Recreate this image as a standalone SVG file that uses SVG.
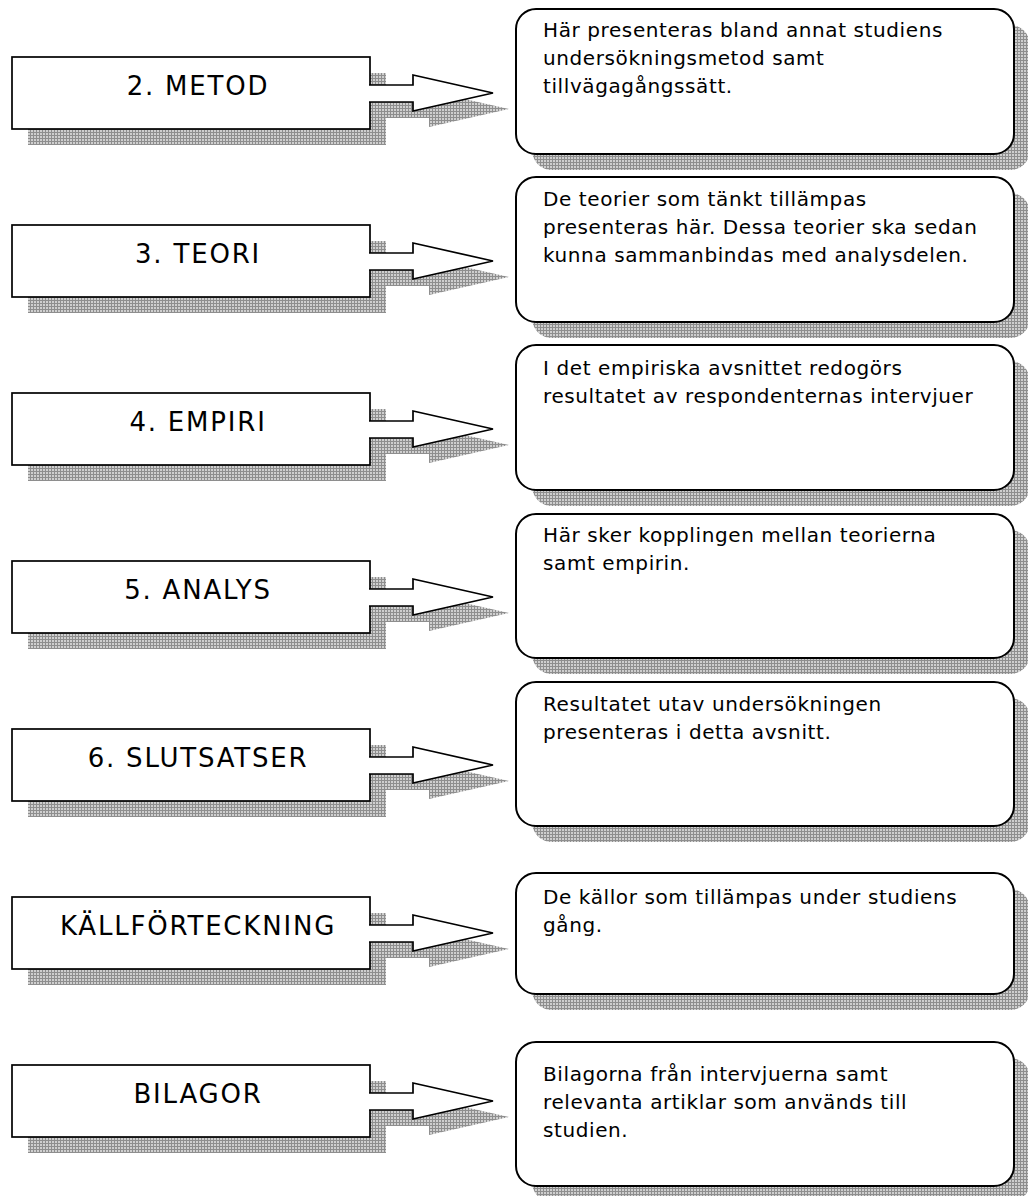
<svg xmlns="http://www.w3.org/2000/svg" width="1028" height="1196" viewBox="0 0 1028 1196">
<defs>
<pattern id="hatch" width="3" height="3" patternUnits="userSpaceOnUse">
<rect width="3" height="3" fill="#cfcfcf"/>
<path d="M0,0.5H3M0.5,0V3" stroke="#8e8e8e" stroke-width="1"/>
</pattern>
</defs>
<style>
.shadow{fill:url(#hatch);stroke:none}
.box{fill:#fff;stroke:#000;stroke-width:1.7}
.rbox{fill:#fff;stroke:#000;stroke-width:2}
.arrow{fill:#fff;stroke:#000;stroke-width:1.7;stroke-linejoin:miter}
.label{font-family:"DejaVu Sans",Verdana,sans-serif;font-size:26px;letter-spacing:1.8px;text-anchor:middle;fill:#000}
.desc{font-family:"DejaVu Sans",Verdana,sans-serif;font-size:20px;letter-spacing:0.6px;fill:#000}
</style>
<rect width="1028" height="1196" fill="#fff"/>

<!-- left nodes -->
<g id="n-metod">
<rect class="shadow" x="28" y="73" width="358" height="72"/>
<rect class="box" x="12" y="57" width="358" height="72"/>
<text class="label" x="198" y="95">2. METOD</text>
</g>
<g id="n-teori">
<rect class="shadow" x="28" y="241" width="358" height="72"/>
<rect class="box" x="12" y="225" width="358" height="72"/>
<text class="label" x="198" y="263">3. TEORI</text>
</g>
<g id="n-empiri">
<rect class="shadow" x="28" y="409" width="358" height="72"/>
<rect class="box" x="12" y="393" width="358" height="72"/>
<text class="label" x="198" y="431">4. EMPIRI</text>
</g>
<g id="n-analys">
<rect class="shadow" x="28" y="577" width="358" height="72"/>
<rect class="box" x="12" y="561" width="358" height="72"/>
<text class="label" x="198" y="599">5. ANALYS</text>
</g>
<g id="n-slutsatser">
<rect class="shadow" x="28" y="745" width="358" height="72"/>
<rect class="box" x="12" y="729" width="358" height="72"/>
<text class="label" x="198" y="767">6. SLUTSATSER</text>
</g>
<g id="n-kallor">
<rect class="shadow" x="28" y="913" width="358" height="72"/>
<rect class="box" x="12" y="897" width="358" height="72"/>
<text class="label" x="198" y="935">KÄLLFÖRTECKNING</text>
</g>
<g id="n-bilagor">
<rect class="shadow" x="28" y="1081" width="358" height="72"/>
<rect class="box" x="12" y="1065" width="358" height="72"/>
<text class="label" x="198" y="1103">BILAGOR</text>
</g>

<!-- right nodes -->
<g id="d-metod">
<rect class="shadow" x="532" y="25" width="498" height="145" rx="20"/>
<rect class="rbox" x="516" y="9" width="498" height="145" rx="20"/>
<text class="desc" x="543" y="37">Här presenteras bland annat studiens</text>
<text class="desc" x="543" y="65">undersökningsmetod samt</text>
<text class="desc" x="543" y="93">tillvägagångssätt.</text>
</g>
<g id="d-teori">
<rect class="shadow" x="532" y="193" width="498" height="145" rx="20"/>
<rect class="rbox" x="516" y="177" width="498" height="145" rx="20"/>
<text class="desc" x="543" y="206">De teorier som tänkt tillämpas</text>
<text class="desc" x="543" y="234">presenteras här. Dessa teorier ska sedan</text>
<text class="desc" x="543" y="262">kunna sammanbindas med analysdelen.</text>
</g>
<g id="d-empiri">
<rect class="shadow" x="532" y="361" width="498" height="145" rx="20"/>
<rect class="rbox" x="516" y="345" width="498" height="145" rx="20"/>
<text class="desc" x="543" y="375">I det empiriska avsnittet redogörs</text>
<text class="desc" x="543" y="403">resultatet av respondenternas intervjuer</text>
</g>
<g id="d-analys">
<rect class="shadow" x="532" y="530" width="498" height="144" rx="20"/>
<rect class="rbox" x="516" y="514" width="498" height="144" rx="20"/>
<text class="desc" x="543" y="542">Här sker kopplingen mellan teorierna</text>
<text class="desc" x="543" y="570">samt empirin.</text>
</g>
<g id="d-slutsatser">
<rect class="shadow" x="532" y="698" width="498" height="144" rx="20"/>
<rect class="rbox" x="516" y="682" width="498" height="144" rx="20"/>
<text class="desc" x="543" y="711">Resultatet utav undersökningen</text>
<text class="desc" x="543" y="739">presenteras i detta avsnitt.</text>
</g>
<g id="d-kallor">
<rect class="shadow" x="532" y="889" width="498" height="121" rx="20"/>
<rect class="rbox" x="516" y="873" width="498" height="121" rx="20"/>
<text class="desc" x="543" y="904">De källor som tillämpas under studiens</text>
<text class="desc" x="543" y="932">gång.</text>
</g>
<g id="d-bilagor">
<rect class="shadow" x="532" y="1058" width="498" height="144" rx="20"/>
<rect class="rbox" x="516" y="1042" width="498" height="144" rx="20"/>
<text class="desc" x="543" y="1081">Bilagorna från intervjuerna samt</text>
<text class="desc" x="543" y="1109">relevanta artiklar som används till</text>
<text class="desc" x="543" y="1137">studien.</text>
</g>

<!-- connectors -->
<g id="connectors">
<g id="a1" transform="translate(0,0)">
<path class="shadow" d="M385,101H429V91L509,109L429,127V118H385Z"/>
<path class="arrow" d="M369,85H413V75L493,93L413,111V102H369"/>
</g>
<g id="a2" transform="translate(0,168)">
<path class="shadow" d="M385,101H429V91L509,109L429,127V118H385Z"/>
<path class="arrow" d="M369,85H413V75L493,93L413,111V102H369"/>
</g>
<g id="a3" transform="translate(0,336)">
<path class="shadow" d="M385,101H429V91L509,109L429,127V118H385Z"/>
<path class="arrow" d="M369,85H413V75L493,93L413,111V102H369"/>
</g>
<g id="a4" transform="translate(0,504)">
<path class="shadow" d="M385,101H429V91L509,109L429,127V118H385Z"/>
<path class="arrow" d="M369,85H413V75L493,93L413,111V102H369"/>
</g>
<g id="a5" transform="translate(0,672)">
<path class="shadow" d="M385,101H429V91L509,109L429,127V118H385Z"/>
<path class="arrow" d="M369,85H413V75L493,93L413,111V102H369"/>
</g>
<g id="a6" transform="translate(0,840)">
<path class="shadow" d="M385,101H429V91L509,109L429,127V118H385Z"/>
<path class="arrow" d="M369,85H413V75L493,93L413,111V102H369"/>
</g>
<g id="a7" transform="translate(0,1008)">
<path class="shadow" d="M385,101H429V91L509,109L429,127V118H385Z"/>
<path class="arrow" d="M369,85H413V75L493,93L413,111V102H369"/>
</g>
</g>
</svg>
